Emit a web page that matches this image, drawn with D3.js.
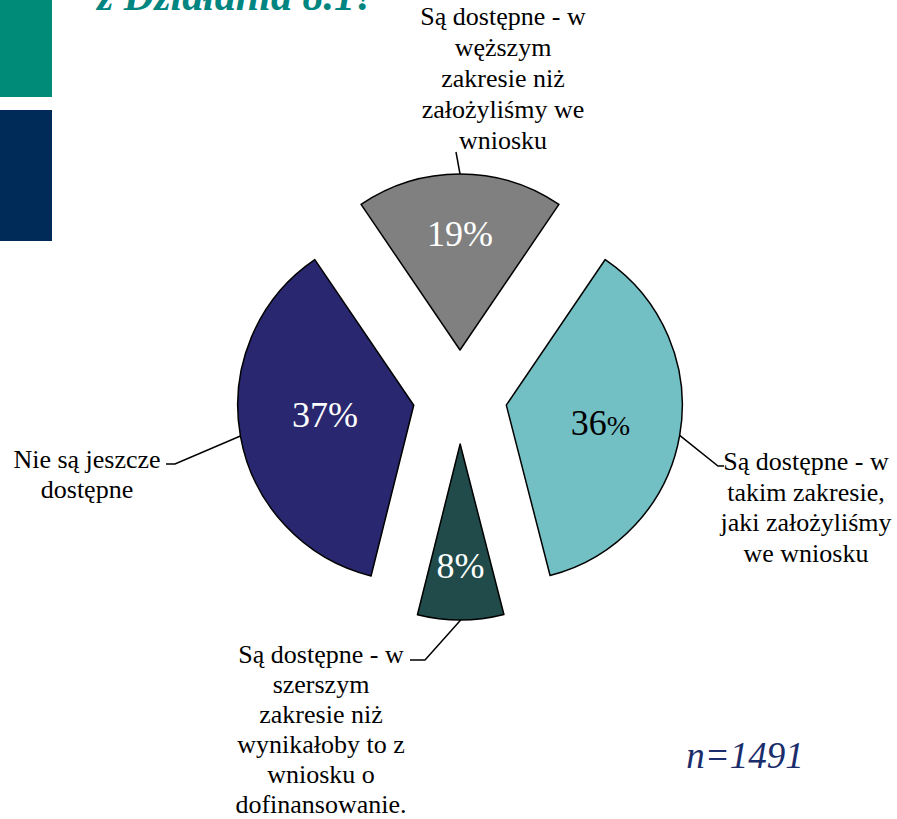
<!DOCTYPE html>
<html>
<head>
<meta charset="utf-8">
<script src="https://cdn.jsdelivr.net/npm/d3@7"></script>
<style>
  body { margin: 0; background: #fff; }
  svg { display: block; }
  svg text { font-family: 'Liberation Serif', Tinos, 'Times New Roman', Times, 'DejaVu Serif', serif; }
</style>
</head>
<body>
<div id="chart"></div>
<script>
// slices clockwise, starting at the right edge of the grey one
const shares = [36.5, 7.9, 36.6, 19.0]
const pctLabels = ['36', '8', '37', '19']
const categories = [
  ['Są dostępne - w', 'takim zakresie,', 'jaki założyliśmy', 'we wniosku'],
  ['Są dostępne - w', 'szerszym', 'zakresie niż', 'wynikałoby to z', 'wniosku o', 'dofinansowanie.'],
  ['Nie są jeszcze', 'dostępne'],
  ['Są dostępne - w', 'węższym', 'zakresie niż', 'założyliśmy we', 'wniosku']
]
const colors = ['#72bfc4', '#204b4a', '#29276f', '#808080']
const pctColors = ['#000', '#fff', '#fff', '#fff']
// where the % labels sit inside each slice (fraction of radius + nudge)
const labelFrac = [0.52, 0.71, 0.5, 0.65]
const labelNudge = [[4, 2], [0, -4], [-2, -6], [0, -2]]

const width = 897, height = 819
const cx = 460, cy = 397, r = 176, explode = 47

const svg = d3.select('#chart').append('svg')
  .attr('width', width).attr('height', height)

// side decoration + clipped title from the slide
svg.append('rect').attr('x', 0).attr('y', 0).attr('width', 52).attr('height', 97).attr('fill', '#008a78')
svg.append('rect').attr('x', 0).attr('y', 110).attr('width', 52).attr('height', 131).attr('fill', '#002b58')
svg.append('text')
  .attr('x', 97).attr('y', 10)
  .attr('font-size', 42)
  .attr('font-style', 'italic').attr('font-weight', 'bold')
  .attr('fill', '#008580')
  .text('z Działania 8.1?')

const start = 0.095 * 2 * Math.PI
const pie = d3.pie().sort(null).value(d => d)
  .startAngle(start).endAngle(start + 2 * Math.PI)
const arcs = pie(shares)
const arc = d3.arc().innerRadius(0).outerRadius(r)

const polar = (a, rad) => [Math.sin(a) * rad, -Math.cos(a) * rad]

const g = svg.append('g').attr('transform', `translate(${cx},${cy})`)

const slice = g.selectAll('g.slice').data(arcs).enter().append('g')
  .attr('class', 'slice')
  .attr('transform', d => {
    const [dx, dy] = polar((d.startAngle + d.endAngle) / 2, explode)
    return `translate(${dx},${dy})`
  })

slice.append('path')
  .attr('d', arc)
  .attr('fill', (d, i) => colors[i])
  .attr('stroke', '#000')
  .attr('stroke-width', 1.5)
  .attr('stroke-linejoin', 'round')

slice.append('text')
  .attr('transform', (d, i) => {
    const [x, y] = polar((d.startAngle + d.endAngle) / 2, r * labelFrac[i])
    return `translate(${x + labelNudge[i][0]},${y + labelNudge[i][1]})`
  })
  .attr('text-anchor', 'middle')
  .attr('dy', '0.35em')
  .attr('font-size', 36)
  .attr('fill', (d, i) => pctColors[i])
  .each(function (d, i) {
    const t = d3.select(this)
    t.append('tspan').text(pctLabels[i])
    t.append('tspan').attr('font-size', i === 0 ? 28 : 36).text('%')
  })

// category labels with leader lines
const labelSpots = [
  { x: 806, y: 461, elbow: [718, 466], end: [724, 466], lh: 30.5 },
  { x: 321, y: 654, elbow: [425, 660], end: [410, 660], lh: 30 },
  { x: 87, y: 459, elbow: [175, 464], end: [166, 464], lh: 30 },
  { x: 503, y: 16, elbow: [456, 152], end: [456, 152], lh: 31 }
]

arcs.forEach((d, i) => {
  const mid = (d.startAngle + d.endAngle) / 2
  const [ox, oy] = polar(mid, explode)
  const [ax, ay] = polar(mid, r)
  const s = labelSpots[i]
  svg.append('path')
    .attr('d', d3.line()([[cx + ox + ax, cy + oy + ay], s.elbow, s.end]))
    .attr('fill', 'none').attr('stroke', '#000').attr('stroke-width', 1.5)

  const t = svg.append('text')
    .attr('text-anchor', 'middle')
    .attr('font-size', 26)
    .attr('fill', '#000')
  categories[i].forEach((line, k) => {
    t.append('tspan').attr('x', s.x).attr('y', s.y + k * s.lh).attr('dy', '0.35em').text(line)
  })
})

svg.append('text')
  .attr('x', 745).attr('y', 768)
  .attr('text-anchor', 'middle')
  .attr('font-size', 37)
  .attr('font-style', 'italic')
  .attr('fill', '#1c2d6b')
  .text('n=1491')
</script>
</body>
</html>
